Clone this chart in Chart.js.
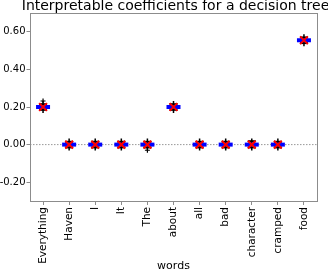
<!DOCTYPE html>
<html>
<head>
<meta charset="utf-8">
<script src="https://cdn.jsdelivr.net/npm/chart.js@4/dist/chart.umd.min.js"></script>
<style>
  html, body { margin: 0; padding: 0; background: #fff; }
  #wrap { width: 328px; height: 273px; }
</style>
</head>
<body>
<div id="wrap"><canvas id="chart"></canvas></div>
<script>
// ===== Data =====
const words = ["Everything", "Haven", "I", "It", "The", "about", "all", "bad", "character", "cramped", "food"];
const coefs = [0.20, 0.00, 0.00, 0.00, 0.00, 0.20, 0.00, 0.00, 0.00, 0.00, 0.555];
const upper = [0.215, 0.015, 0.015, 0.015, 0.015, 0.215, 0.015, 0.015, 0.018, 0.015, 0.57];
const lower = [0.185, -0.015, -0.015, -0.015, -0.015, 0.185, -0.015, -0.015, -0.015, -0.015, 0.54];
const fliers = [0.232, null, null, null, -0.03, null, null, null, null, null, null];
const yTicks = [-0.2, 0, 0.2, 0.4, 0.6];

const FRAME = "#8c8c8c";
const FONT = "'DejaVu Sans', sans-serif";

// frame, zero line and title
const extras = {
  id: "extras",
  beforeDatasetsDraw(chart) {
    const { ctx, chartArea: a, scales } = chart;
    const y0 = scales.y.getPixelForValue(0);
    ctx.save();
    ctx.strokeStyle = "#999";
    ctx.lineWidth = 1;
    ctx.setLineDash([1.5, 1.5]);
    ctx.beginPath();
    ctx.moveTo(a.left, y0);
    ctx.lineTo(a.right, y0);
    ctx.stroke();
    ctx.restore();
  },
  afterDraw(chart) {
    const { ctx, chartArea: a } = chart;
    ctx.save();
    ctx.strokeStyle = FRAME;
    ctx.lineWidth = 1;
    ctx.strokeRect(a.left + 0.5, a.top + 0.5, a.right - a.left, a.bottom - a.top);
    ctx.fillStyle = "#000";
    ctx.font = "14px " + FONT;
    ctx.textAlign = "center";
    ctx.textBaseline = "top";
    ctx.fillText("Interpretable coefficients for a decision tree", (a.left + a.right) / 2 + 2, -1);
    ctx.restore();
  }
};

const pts = { showLine: false, pointHoverRadius: 0 };

// Chart.js paints the first dataset on top, so the red X comes first
new Chart(document.getElementById("chart"), {
  type: "line",
  data: {
    labels: words,
    datasets: [
      { ...pts, data: coefs, pointStyle: "crossRot", radius: 5.5, borderWidth: 2, borderColor: "#ff0000", backgroundColor: "#ff0000" },
      { ...pts, data: coefs, pointStyle: "line", radius: 7, borderWidth: 4, borderColor: "#0000ff", backgroundColor: "#0000ff" },
      { ...pts, data: fliers, pointStyle: "cross", radius: 2.5, borderWidth: 1.2, borderColor: "#000", backgroundColor: "#000" },
      { ...pts, data: upper, pointStyle: "line", radius: 4, borderWidth: 2, borderColor: "#000", backgroundColor: "#000" },
      { ...pts, data: lower, pointStyle: "line", radius: 4, borderWidth: 2, borderColor: "#000", backgroundColor: "#000" },
      { ...pts, data: coefs, pointStyle: "line", rotation: 90, radius: 6, borderWidth: 1.5, borderColor: "#000", backgroundColor: "#000" }
    ]
  },
  options: {
    responsive: true,
    maintainAspectRatio: false,
    animation: false,
    events: [],
    layout: { padding: { top: 13, right: 7, left: 0, bottom: 0 } },
    plugins: { legend: { display: false }, title: { display: false }, tooltip: { enabled: false } },
    scales: {
      x: {
        offset: true,
        grid: { display: true, drawOnChartArea: false, drawTicks: true, tickLength: 4, color: FRAME },
        border: { display: true, color: FRAME },
        ticks: { color: "#000", font: { family: FONT, size: 10.5 }, minRotation: 90, maxRotation: 90, padding: 2, autoSkip: false },
        title: { display: true, text: "words", color: "#000", font: { family: FONT, size: 11 }, padding: { top: 1, bottom: 0 } },
        afterFit(scale) { scale.height = 72; }
      },
      y: {
        min: -0.3,
        max: 0.7,
        afterBuildTicks(scale) { scale.ticks = yTicks.map(v => ({ value: v })); },
        grid: { display: true, drawOnChartArea: false, drawTicks: true, tickLength: 3.5, color: FRAME },
        border: { display: true, color: FRAME },
        ticks: { color: "#000", font: { family: FONT, size: 10 }, padding: 1, callback: v => v.toFixed(2) },
        afterFit(scale) { scale.width = 30; }
      }
    }
  },
  plugins: [extras]
});
</script>
</body>
</html>
